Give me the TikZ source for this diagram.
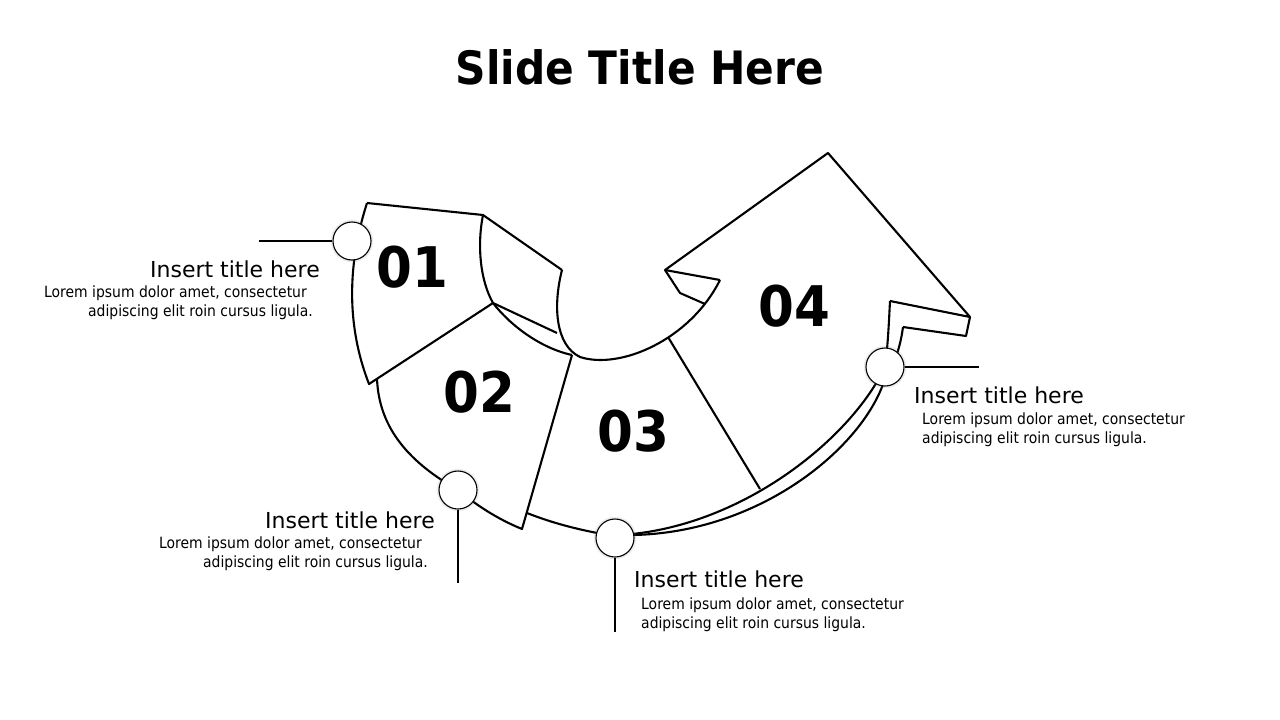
\documentclass[tikz,border=0pt]{standalone}
\usepackage{fontspec}
\setmainfont{DejaVu Sans}
\newfontfamily\headfont[FakeStretch=0.92,BoldFont={DejaVu Sans Bold}]{DejaVu Sans}
\newfontfamily\bodyfont[FakeStretch=0.9]{DejaVu Sans}
\usetikzlibrary{shadows}
\begin{document}
\begin{tikzpicture}[x=1pt,y=-1pt,
  outline/.style={line width=2.1pt,line join=round},
  lead/.style={line width=1.2pt},
  dot/.style={circle,draw,fill=white,line width=1.1pt,minimum size=38pt,inner sep=0pt,
    drop shadow={shadow xshift=0pt,shadow yshift=0pt,shadow scale=1.12,opacity=.15}},
  num/.style={font=\headfont\bfseries\fontsize{56}{56}\selectfont},
  ttl/.style={inner sep=0pt,font=\fontsize{22}{26}\selectfont},
  txt/.style={inner sep=0pt,font=\bodyfont\fontsize{15.5}{19}\selectfont}]
\useasboundingbox (0,0) rectangle (1280,720);
\node[font=\headfont\bfseries\fontsize{46}{50}\selectfont,anchor=base] (title) at (640,84) {Slide Title Here};
\draw[outline] (367,203) -- (483,215) .. controls (477,245) and (480,280) .. (493,303) -- (369,384) .. controls (350,335) and (344,275) .. (367,203);
\draw[outline] (483,215) -- (562,270);
\draw[outline] (493,303) -- (557,333);
\draw[outline] (493,303) .. controls (510,325) and (540,348) .. (572,355);
\draw[outline] (562,270) .. controls (553,305) and (555,345) .. (580,357) .. controls (620,370) and (690,340) .. (720,280);
\draw[outline] (377,379) .. controls (379,425) and (405,460) .. (458,490);
\draw[outline] (458,490) .. controls (480,508) and (500,520) .. (522,529) -- (572,355);
\draw[outline] (527,513) .. controls (552,523) and (582,531) .. (615,536);
\draw[outline] (668,337) -- (760,489);
\draw[outline] (620,535) .. controls (740,528) and (850,440) .. (885,367) .. controls (888,345) and (889,320) .. (890,301);
\draw[outline] (620,535) .. controls (750,538) and (855,455) .. (882,387) .. controls (893,367) and (900,350) .. (903,327);
\draw[outline] (720,280) -- (665,270) -- (828,153) -- (970,317) -- (890,301);
\draw[outline] (970,317) -- (966,336) -- (903,327);
\draw[outline] (665,270) -- (680,293) -- (705,304);
\node[dot] (d1) at (352,241) {};
\node[dot] (d2) at (458,490) {};
\node[dot] (d3) at (615,538) {};
\node[dot] (d4) at (885,367) {};
\coordinate (e1) at (259,241);
\coordinate (e2) at (458,583);
\coordinate (e3) at (615,632);
\coordinate (e4) at (979,367);
\draw[lead] (d1) -- (e1);
\draw[lead] (d2) -- (e2);
\draw[lead] (d3) -- (e3);
\draw[lead] (d4) -- (e4);
\node[num] (n1) at (412,267) {01};
\node[num] (n2) at (479,392) {02};
\node[num] (n3) at (633,431) {03};
\node[num] (n4) at (794,306) {04};
\node[ttl,anchor=base east] (t1) at (320,277) {Insert title here};
\node[txt,align=right,anchor=base east] (b1) at (313,316) {Lorem ipsum dolor amet, consectetur\kern6pt\\adipiscing elit roin cursus ligula.};
\node[ttl,anchor=base east] (t2) at (435,528) {Insert title here};
\node[txt,align=right,anchor=base east] (b2) at (428,567) {Lorem ipsum dolor amet, consectetur\kern6pt\\adipiscing elit roin cursus ligula.};
\node[ttl,anchor=base west] (t3) at (634,587) {Insert title here};
\node[txt,align=left,anchor=base west] (b3) at (641,628) {Lorem ipsum dolor amet, consectetur\\adipiscing elit roin cursus ligula.};
\node[ttl,anchor=base west] (t4) at (914,403) {Insert title here};
\node[txt,align=left,anchor=base west] (b4) at (922,443) {Lorem ipsum dolor amet, consectetur\\adipiscing elit roin cursus ligula.};
\end{tikzpicture}
\end{document}
